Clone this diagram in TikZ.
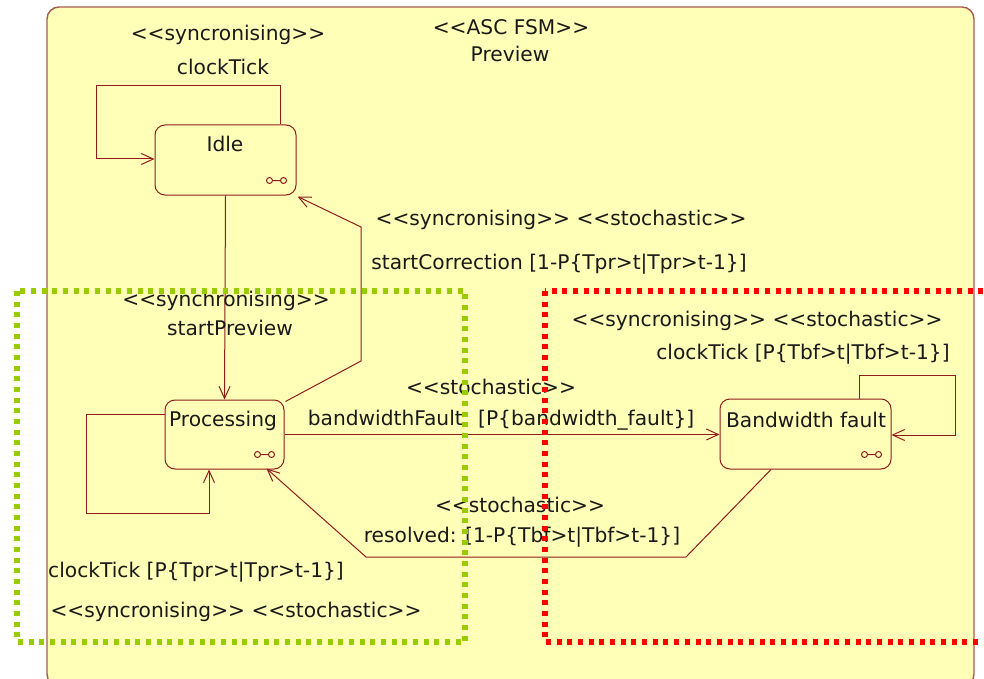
\documentclass[tikz,border=0pt]{standalone}
\usepackage{fontspec}
\setmainfont{DejaVu Sans}
\usetikzlibrary{arrows.meta}
\definecolor{wirered}{HTML}{8E1C1C}
\definecolor{framered}{HTML}{A85A50}
\definecolor{panel}{HTML}{FFFFB8}
\definecolor{regiongreen}{HTML}{99CC00}
\tikzstyle{state}=[draw=wirered,line width=1pt,rounded corners=10pt,inner sep=0pt]
\tikzstyle{wire}=[draw=wirered,line width=1pt]
\tikzstyle{trans}=[wire,-{Straight Barb[length=12pt,width=11pt,line width=1pt]}]
\tikzstyle{lbl}=[inner sep=0pt,font=\fontsize{20.2}{22}\selectfont,text=black!90]
\tikzstyle{region}=[line width=5.2pt,dash pattern=on 5pt off 5.67pt]
\newcommand{\stereo}[1]{<{}<#1>{}>}
\newcommand{\stateicon}[1]{%
  \draw[wire] ([xshift=-27,yshift=15]#1.south east) circle (3)
    ([xshift=-13,yshift=15]#1.south east) circle (3)
    ([xshift=-24,yshift=15]#1.south east) -- ([xshift=-16,yshift=15]#1.south east);
}

\begin{document}
\begin{tikzpicture}[x=1pt,y=-1pt]
\clip (0,0) rectangle (984,679);
\fill[white] (0,0) rectangle (984,679);
\draw[draw=framered,line width=1.4pt,fill=panel,rounded corners=12pt] (47,7) rectangle (974,686);

    \node [state,minimum width=141pt,minimum height=70pt] (idle) at (225.5,160) {};
    \node [state,minimum width=119pt,minimum height=69pt] (proc) at (224.5,434.5) {};
    \node [state,minimum width=171pt,minimum height=70pt] (fault) at (805.5,434) {};
    \node [lbl] (idlename) at (225,144) {Idle};
    \node [lbl] (procname) at (223,421) {Processing};
    \node [lbl] (faultname) at (806,420) {Bandwidth fault};
    \stateicon{idle}
    \stateicon{proc}
    \stateicon{fault}

% transitions
\coordinate (idleloopa) at (280,86);
\coordinate (idleloopb) at (96,86);
\coordinate (idleloopc) at (96,159);
\draw[trans] ([xshift=54.5]idle.north) -- (idleloopa) -- (idleloopb) -- (idleloopc) -- (idleloopc -| idle.west);
\draw[trans] (idle.south) -- (proc.north);
\coordinate (corra) at (361,361);
\coordinate (corrb) at (361,227);
\draw[trans] ([xshift=1,yshift=-2]proc.north east) -- (corra) -- (corrb) -- ([xshift=1,yshift=-1]idle.south east);
\coordinate (procloopa) at (86,414);
\coordinate (procloopb) at (86,513);
\coordinate (procloopc) at (209,513);
\draw[trans] (proc.west |- procloopa) -- (procloopa) -- (procloopb) -- (procloopc) -- (procloopc |- proc.south);
\draw[trans] (proc.east) -- (fault.west |- proc.east);
\coordinate (resa) at (686,557);
\coordinate (resb) at (366,557);
\draw[trans] ([xshift=-34.5]fault.south) -- (resa) -- (resb) -- ([xshift=-18,yshift=1]proc.south east);
\coordinate (faultloopa) at (859,375);
\coordinate (faultloopb) at (955,375);
\coordinate (faultloopc) at (955,435);
\draw[trans] ([xshift=53.5]fault.north) -- (faultloopa) -- (faultloopb) -- (faultloopc) -- (fault.east |- faultloopc);

% labels
\node [lbl] (fsm) at (511,27) {\stereo{ASC FSM}};
\node [lbl] (preview) at (510,54) {Preview};
\node [lbl] (idlest) at (228,35) {\stereo{syncronising}};
\node [lbl] (idletick) at (223,67) {clockTick};
\node [lbl] (corrst) at (561,220) {\stereo{syncronising} \stereo{stochastic}};
\node [lbl] (corrtxt) at (559,264) {startCorrection [1-P\{Tpr>t|Tpr>t-1\}]};
\node [lbl] (startst) at (226,301) {\stereo{synchronising}};
\node [lbl] (starttxt) at (230,328) {startPreview};
\node [lbl] (faultst) at (757,321) {\stereo{syncronising} \stereo{stochastic}};
\node [lbl] (faulttxt) at (803,354) {clockTick [P\{Tbf>t|Tbf>t-1\}]};
\node [lbl] (bwst) at (491,387) {\stereo{stochastic}};
\node [lbl] (bwtxt) at (501,420) {bandwidthFault: [P\{bandwidth\_fault\}]};
\node [lbl] (resst) at (520,505) {\stereo{stochastic}};
\node [lbl] (restxt) at (522,537) {resolved: [1-P\{Tbf>t|Tbf>t-1\}]};
\node [lbl] (proctxt) at (196,572) {clockTick [P\{Tpr>t|Tpr>t-1\}]};
\node [lbl] (procst) at (236,612) {\stereo{syncronising} \stereo{stochastic}};

% regions on top
\draw[region,draw=regiongreen] (17,291) rectangle (465,642);
\draw[region,draw=red] (545,291) rectangle (1000,642);
\end{tikzpicture}
\end{document}
